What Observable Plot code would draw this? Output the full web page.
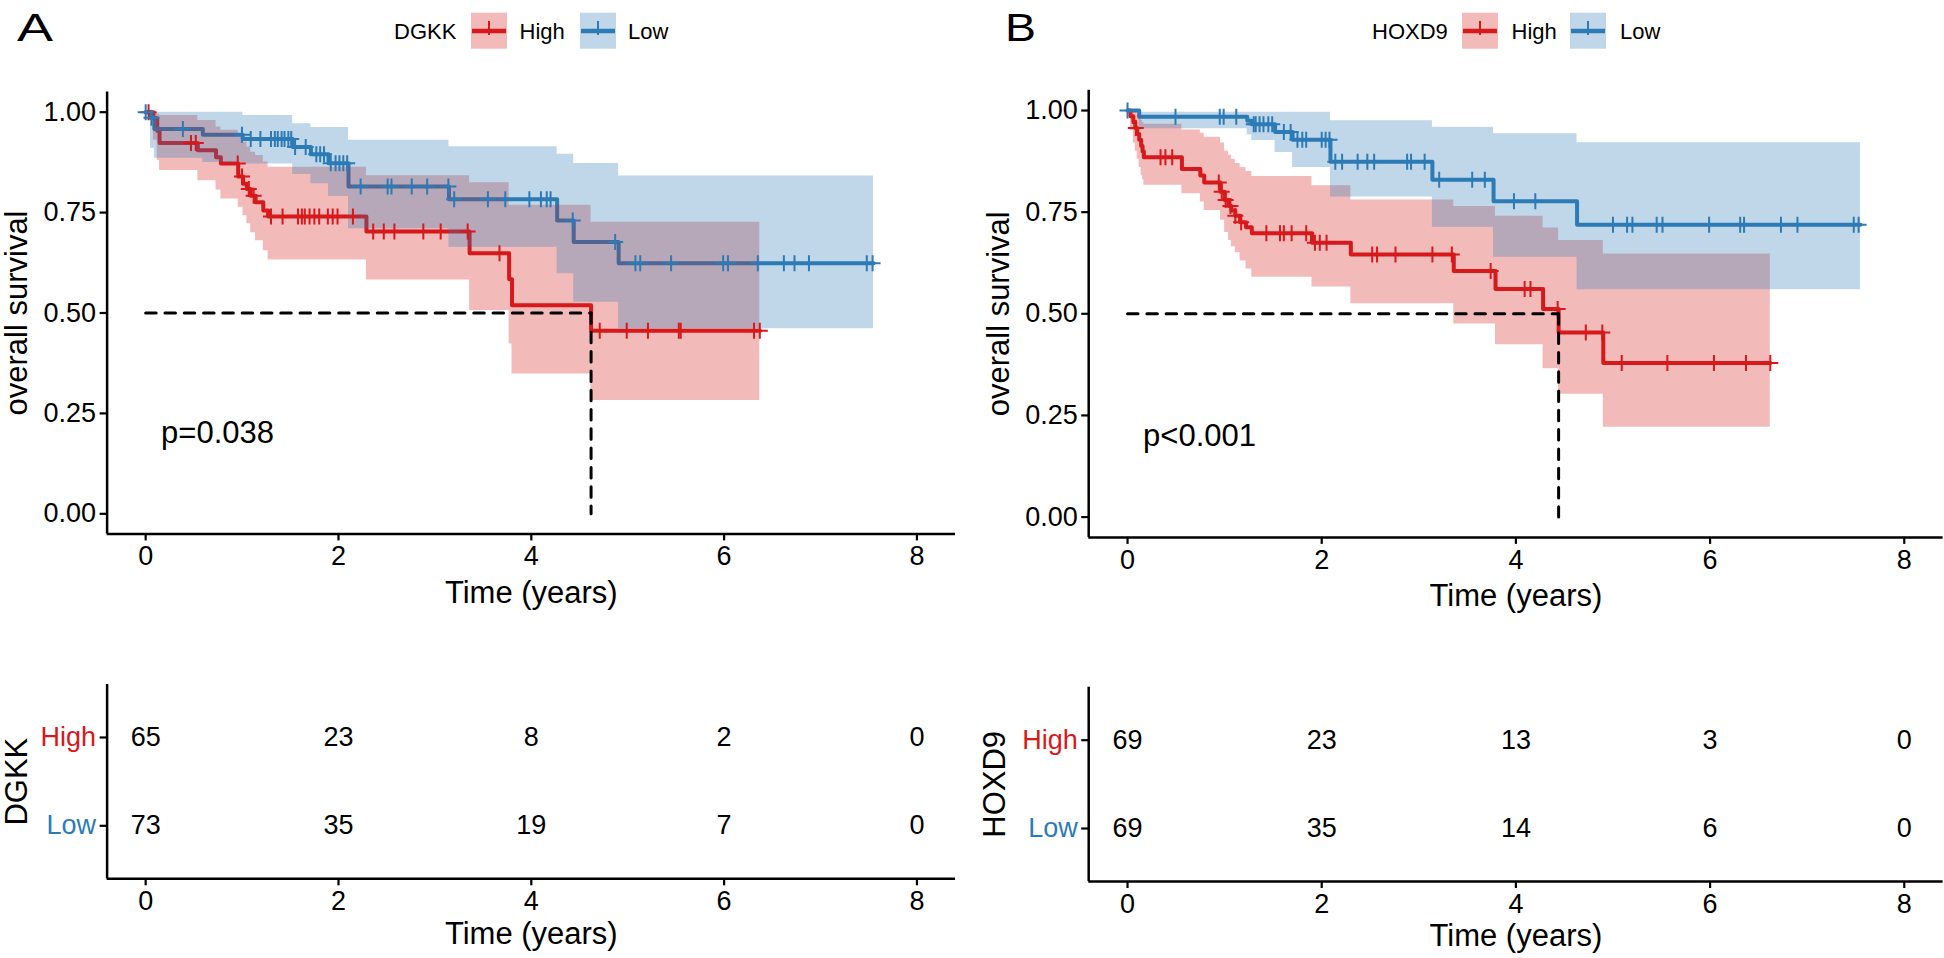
<!DOCTYPE html>
<html>
<head>
<meta charset="utf-8">
<script src="https://cdn.jsdelivr.net/npm/d3@7"></script>
<script src="https://cdn.jsdelivr.net/npm/@observablehq/plot@0.6"></script>
<style>
  body { margin: 0; background: #fff; }
  #root { position: relative; width: 1944px; height: 958px; overflow: hidden; background: #fff;
          font-family: "Liberation Sans", Arial, sans-serif; }
  .abs { position: absolute; }
</style>
</head>
<body>
<div id="root"></div>
<script>
// ---------------- data ----------------
const groups = ["High", "Low"];
const groupColors = ["#D7191C", "#2C7BB6"];
const timeTicks = [0, 2, 4, 6, 8];
const survTicks = [0, 0.25, 0.5, 0.75, 1];

// Panel A : DGKK
const A_gene = "DGKK";
const A_pval = "p=0.038";
const A_high_time  = [0, 0.08, 0.12, 0.144, 0.541, 0.73, 0.78, 0.96, 1.01, 1.05, 1.09, 1.14, 1.22, 1.27, 2.29, 3.36, 3.77, 3.80, 4.62];
const A_high_surv  = [1, 0.985, 0.954, 0.923, 0.905, 0.888, 0.872, 0.84, 0.822, 0.809, 0.792, 0.776, 0.755, 0.740, 0.703, 0.649, 0.584, 0.519, 0.456];
const A_high_upper = [1, 1, 0.995, 0.992, 0.979, 0.963, 0.955, 0.938, 0.925, 0.913, 0.90, 0.892, 0.876, 0.863, 0.842, 0.824, 0.768, 0.768, 0.726];
const A_high_lower = [1, 0.93, 0.88, 0.855, 0.829, 0.806, 0.784, 0.763, 0.742, 0.722, 0.70, 0.68, 0.655, 0.632, 0.582, 0.506, 0.423, 0.348, 0.282];
const A_high_end = 6.37;
const A_high_censor = [0.03, 0.47, 0.52, 0.955, 1.0, 1.07, 1.12, 1.30, 1.42, 1.58, 1.62, 1.65, 1.70, 1.75, 1.80, 1.89, 1.94, 1.99, 2.15, 2.36, 2.47, 2.58, 2.88, 3.06, 3.34, 3.67, 4.71, 4.99, 5.21, 5.53, 5.55, 6.31, 6.37];

const A_low_time  = [0, 0.05, 0.09, 0.593, 1.007, 1.525, 1.714, 1.897, 2.104, 3.146, 4.268, 4.44, 4.906];
const A_low_surv  = [1, 0.986, 0.958, 0.944, 0.933, 0.913, 0.895, 0.873, 0.815, 0.783, 0.730, 0.677, 0.624];
const A_low_upper = [1, 1, 1, 1, 0.992, 0.971, 0.962, 0.962, 0.930, 0.914, 0.895, 0.872, 0.841];
const A_low_lower = [1, 0.91, 0.885, 0.875, 0.871, 0.845, 0.822, 0.79, 0.71, 0.664, 0.598, 0.527, 0.461];
const A_low_end = 7.55;
const A_low_censor = [0, 0.06, 0.386, 0.999, 1.09, 1.19, 1.30, 1.34, 1.37, 1.41, 1.44, 1.48, 1.51, 1.55, 1.66, 1.77, 1.81, 1.85, 1.92, 1.97, 2.01, 2.05, 2.09, 2.23, 2.51, 2.55, 2.76, 2.92, 3.14, 3.2, 3.55, 3.73, 3.98, 4.10, 4.16, 4.2, 4.43, 4.87, 5.08, 5.13, 5.45, 5.99, 6.04, 6.35, 6.62, 6.73, 6.88, 7.48, 7.54];

const A_risk_high = [65, 23, 8, 2, 0];
const A_risk_low  = [73, 35, 19, 7, 0];

// Panel B : HOXD9
const B_gene = "HOXD9";
const B_pval = "p<0.001";
const B_high_time  = [0, 0.03, 0.06, 0.08, 0.10, 0.12, 0.14, 0.155, 0.168, 0.56, 0.75, 0.79, 0.958, 1.0, 1.04, 1.07, 1.11, 1.16, 1.22, 1.28, 1.90, 2.30, 3.36, 3.79, 4.28, 4.44, 4.90];
const B_high_surv  = [1, 0.986, 0.971, 0.957, 0.942, 0.928, 0.913, 0.899, 0.885, 0.856, 0.84, 0.823, 0.80, 0.78, 0.765, 0.754, 0.741, 0.725, 0.713, 0.698, 0.675, 0.646, 0.605, 0.561, 0.512, 0.454, 0.379];
const B_high_upper = [1, 1, 1, 0.995, 0.99, 0.985, 0.975, 0.97, 0.966, 0.952, 0.944, 0.934, 0.92, 0.90, 0.89, 0.88, 0.87, 0.86, 0.85, 0.838, 0.815, 0.78, 0.764, 0.74, 0.711, 0.68, 0.647];
const B_high_lower = [1, 0.95, 0.92, 0.90, 0.88, 0.86, 0.84, 0.83, 0.816, 0.795, 0.775, 0.754, 0.73, 0.70, 0.68, 0.665, 0.65, 0.63, 0.61, 0.59, 0.566, 0.525, 0.475, 0.424, 0.365, 0.302, 0.221];
const B_high_end = 6.62;
const B_high_censor = [0.085, 0.34, 0.39, 0.46, 0.94, 0.97, 1.01, 1.06, 1.11, 1.17, 1.43, 1.57, 1.61, 1.69, 1.84, 1.93, 1.98, 2.05, 2.52, 2.57, 2.76, 3.14, 3.34, 3.74, 4.09, 4.15, 4.43, 4.72, 4.89, 5.09, 5.56, 6.04, 6.37, 6.62];

const B_low_time  = [0, 0.12, 1.233, 1.28, 1.52, 1.70, 2.09, 3.14, 3.77, 4.63];
const B_low_surv  = [1, 0.985, 0.975, 0.966, 0.947, 0.928, 0.874, 0.830, 0.777, 0.719];
const B_low_upper = [1, 0.996, 0.996, 0.996, 0.996, 0.996, 0.975, 0.959, 0.943, 0.9205];
const B_low_lower = [1, 0.955, 0.94, 0.926, 0.897, 0.86, 0.787, 0.713, 0.639, 0.559];
const B_low_end = 7.55;
const B_low_censor = [0, 0.494, 0.95, 0.99, 1.12, 1.30, 1.32, 1.36, 1.40, 1.45, 1.49, 1.61, 1.68, 1.75, 1.80, 1.84, 2.0, 2.04, 2.08, 2.14, 2.21, 2.37, 2.47, 2.54, 2.88, 2.92, 3.06, 3.21, 3.55, 3.68, 3.98, 4.2, 5.0, 5.145, 5.2, 5.45, 5.51, 5.99, 6.31, 6.35, 6.73, 6.9, 7.48, 7.53];

const B_risk_high = [69, 23, 13, 3, 0];
const B_risk_low  = [69, 35, 14, 6, 0];

// ---------------- helpers ----------------
const FONT = "Liberation Sans, Arial, Helvetica, sans-serif";
const xDomain = [-0.4, 8.4];

function stepRows(time, surv, lower, upper, end) {
  const rows = time.map((t, i) => ({t, s: surv[i], lo: lower[i], hi: upper[i]}));
  const last = rows[rows.length - 1];
  rows.push({t: end, s: last.s, lo: last.lo, hi: last.hi});
  return rows;
}
function valueAt(time, surv, t) {
  let v = surv[0];
  for (let i = 0; i < time.length; i++) if (time[i] <= t) v = surv[i];
  return v;
}
function censorRows(time, surv, censor) {
  return censor.map(t => ({t, s: valueAt(time, surv, t)}));
}
function medianOf(time, surv) {
  for (let i = 0; i < time.length; i++) if (surv[i] <= 0.5) return time[i];
  return null;
}
const plusSymbol = {
  draw(context, size) {
    const r = Math.sqrt(size / Math.PI);
    context.moveTo(-r, 0); context.lineTo(r, 0);
    context.moveTo(0, -r); context.lineTo(0, r);
  }
};

function mainPlot(cfg) {
  const hi = stepRows(cfg.high.time, cfg.high.surv, cfg.high.lower, cfg.high.upper, cfg.high.end);
  const lo = stepRows(cfg.low.time, cfg.low.surv, cfg.low.lower, cfg.low.upper, cfg.low.end);
  const hiC = censorRows(cfg.high.time, cfg.high.surv, cfg.high.censor);
  const loC = censorRows(cfg.low.time, cfg.low.surv, cfg.low.censor);
  const med = medianOf(cfg.high.time, cfg.high.surv);
  const medH = [{t: 0, s: 0.5}, {t: med, s: 0.5}];
  const medV = [{t: med, s: 0.5}, {t: med, s: 0}];
  return Plot.plot({
    width: cfg.width, height: cfg.height,
    marginLeft: cfg.mL, marginRight: cfg.mR, marginTop: cfg.mT, marginBottom: cfg.mB,
    x: {domain: xDomain},
    y: {domain: [-0.05, 1.05]},
    style: {fontFamily: FONT, color: "#000", background: "transparent", overflow: "visible"},
    marks: [
      Plot.line(hi, {x: "t", y: "s", curve: "step-after", stroke: groupColors[0], strokeWidth: 4}),
      Plot.line(lo, {x: "t", y: "s", curve: "step-after", stroke: groupColors[1], strokeWidth: 4}),
      Plot.areaY(hi, {x: "t", y1: "lo", y2: "hi", curve: "step-after", fill: groupColors[0], fillOpacity: 0.3}),
      Plot.areaY(lo, {x: "t", y1: "lo", y2: "hi", curve: "step-after", fill: groupColors[1], fillOpacity: 0.3}),
      Plot.dot(hiC, {x: "t", y: "s", r: 8, symbol: plusSymbol, stroke: groupColors[0], fill: "none", strokeWidth: 2}),
      Plot.dot(loC, {x: "t", y: "s", r: 8, symbol: plusSymbol, stroke: groupColors[1], fill: "none", strokeWidth: 2}),
      Plot.line(medH, {x: "t", y: "s", stroke: "#000", strokeWidth: 3, strokeDasharray: "10.5,8.8"}),
      Plot.line(medV, {x: "t", y: "s", stroke: "#000", strokeWidth: 3, strokeDasharray: "10.5,8.8"}),
      Plot.ruleX([xDomain[0]], {stroke: "#000", strokeWidth: 2.5}),
      Plot.ruleY([-0.05], {stroke: "#000", strokeWidth: 2.5}),
      Plot.axisX({ticks: timeTicks, tickSize: 7, tickPadding: 5, fontSize: 27, strokeWidth: 2.2, label: null}),
      Plot.axisY({ticks: survTicks, tickFormat: d3.format(".2f"), tickSize: 7, tickPadding: 4, fontSize: 27, strokeWidth: 2.2, label: null}),
      Plot.text(["Time (years)"], {frameAnchor: "bottom", dy: 59, fontSize: 31, lineAnchor: "middle", textAnchor: "middle", fill: "#000"}),
      Plot.text(["overall survival"], {frameAnchor: "left", dx: -90, rotate: -90, fontSize: 31, lineAnchor: "middle", textAnchor: "middle", fill: "#000"}),
      Plot.text([cfg.pval], {x: () => 0.16, y: () => 0.2, textAnchor: "start", lineAnchor: "middle", fontSize: 31, fill: "#000"})
    ]
  });
}

function riskPlot(cfg) {
  const rows = timeTicks.flatMap((t, i) => [
    {t, g: 1, n: cfg.high[i]},
    {t, g: 2, n: cfg.low[i]}
  ]);
  return Plot.plot({
    width: cfg.width, height: cfg.height,
    marginLeft: cfg.mL, marginRight: cfg.mR, marginTop: cfg.mT, marginBottom: cfg.mB,
    x: {domain: xDomain},
    y: {domain: [2.6, 0.4]},
    style: {fontFamily: FONT, color: "#000", background: "transparent", overflow: "visible"},
    marks: [
      Plot.text(rows, {x: "t", y: "g", text: "n", fontSize: 27, fill: "#000"}),
      Plot.ruleX([xDomain[0]], {stroke: "#000", strokeWidth: 2.5}),
      Plot.ruleY([2.6], {stroke: "#000", strokeWidth: 2.5}),
      Plot.axisX({ticks: timeTicks, tickSize: 7, tickPadding: 5, fontSize: 27, strokeWidth: 2.2, label: null}),
      Plot.axisY([1], {tickFormat: () => groups[0], fill: groupColors[0], tickSize: 7, tickPadding: 4, fontSize: 27, strokeWidth: 2.2, label: null}),
      Plot.axisY([2], {tickFormat: () => groups[1], fill: groupColors[1], tickSize: 7, tickPadding: 4, fontSize: 27, strokeWidth: 2.2, label: null}),
      Plot.text(["Time (years)"], {frameAnchor: "bottom", dy: 55, fontSize: 31, lineAnchor: "middle", textAnchor: "middle", fill: "#000"}),
      Plot.text([cfg.gene], {frameAnchor: "left", dx: cfg.titleDx, rotate: -90, fontSize: 31, lineAnchor: "middle", textAnchor: "middle", fill: "#000"})
    ]
  });
}

function place(el, left, top) {
  el.classList.add("abs");
  el.style.left = left + "px";
  el.style.top = top + "px";
  document.getElementById("root").appendChild(el);
}

// ---------------- panels ----------------
place(mainPlot({
  width: 972, height: 620, mL: 106.6, mR: 17, mT: 91.6, mB: 86.6, pval: A_pval,
  high: {time: A_high_time, surv: A_high_surv, lower: A_high_lower, upper: A_high_upper, end: A_high_end, censor: A_high_censor},
  low:  {time: A_low_time,  surv: A_low_surv,  lower: A_low_lower,  upper: A_low_upper,  end: A_low_end,  censor: A_low_censor}
}), 0, 0);

place(mainPlot({
  width: 972, height: 620, mL: 116.2, mR: 1.4, mT: 89.7, mB: 83.1, pval: B_pval,
  high: {time: B_high_time, surv: B_high_surv, lower: B_high_lower, upper: B_high_upper, end: B_high_end, censor: B_high_censor},
  low:  {time: B_low_time,  surv: B_low_surv,  lower: B_low_lower,  upper: B_low_upper,  end: B_low_end,  censor: B_low_censor}
}), 972, 0);

place(riskPlot({width: 972, height: 338, mL: 106.6, mR: 17, mT: 64, mB: 79.7, gene: A_gene, titleDx: -90, high: A_risk_high, low: A_risk_low}), 0, 620);
place(riskPlot({width: 972, height: 338, mL: 116.2, mR: 1.4, mT: 66.7, mB: 77, gene: B_gene, titleDx: -94, high: B_risk_high, low: B_risk_low}), 972, 620);

// ---------------- panel letters and legends ----------------
function header(offsetX, letter, letterX, letterW, gene, geneX, box1X, text1X, box2X, text2X) {
  const svg = d3.create("svg").attr("width", 972).attr("height", 70)
    .style("font-family", FONT).style("overflow", "visible");
  svg.append("text").attr("x", letterX).attr("y", 41).attr("font-size", 39).attr("fill", "#000")
    .attr("textLength", letterW).attr("lengthAdjust", "spacingAndGlyphs").text(letter);
  svg.append("text").attr("x", geneX).attr("y", 39).attr("font-size", 22).attr("fill", "#000").text(gene);
  const keys = [[box1X, text1X, 0], [box2X, text2X, 1]];
  for (const [bx, tx, gi] of keys) {
    const c = groupColors[gi];
    svg.append("rect").attr("x", bx).attr("y", 12.7).attr("width", 36).attr("height", 36)
      .attr("fill", c).attr("fill-opacity", 0.3);
    svg.append("line").attr("x1", bx + 1).attr("x2", bx + 35).attr("y1", 31).attr("y2", 31)
      .attr("stroke", c).attr("stroke-width", 4.5);
    svg.append("line").attr("x1", bx + 18).attr("x2", bx + 18).attr("y1", 21).attr("y2", 35)
      .attr("stroke", c).attr("stroke-width", 2);
    svg.append("text").attr("x", tx).attr("y", 39).attr("font-size", 22).attr("fill", "#000").text(groups[gi]);
  }
  place(svg.node(), offsetX, 0);
}
header(0, "A", 17, 36, A_gene, 394, 471, 519.5, 580, 628);
header(972, "B", 33, 31, B_gene, 400, 490, 539.5, 598, 648);
</script>
</body>
</html>
